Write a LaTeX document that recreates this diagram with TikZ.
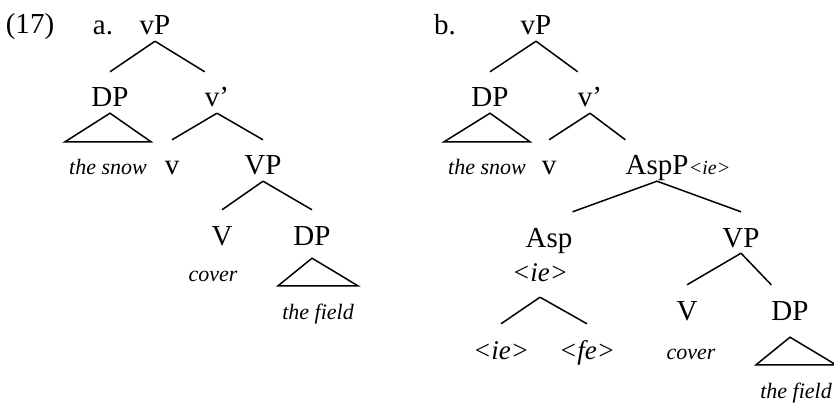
\documentclass[tikz,border=0pt]{standalone}
\usepackage{fontspec}
\setmainfont{Liberation Serif}
\usetikzlibrary{positioning}

\begin{document}
\begin{tikzpicture}[x=1pt, y=-1pt,
    cat/.style={anchor=base, inner sep=0pt, text height=35pt, text depth=6pt,
      font=\fontsize{29}{31}\selectfont},
    word/.style={cat, font=\fontsize{22}{24}\selectfont\itshape},
    feat/.style={cat, font=\fontsize{27}{29}\selectfont\itshape},
    tri/.style={word, text height=33pt, inner xsep=4pt},
    branch/.style={line width=1.5pt}]
    \useasboundingbox (0,0) rectangle (834,406);
    % (a): vP without AspP
    \node[cat] (exnum) at (30,34) {(17)};
    \node[cat] (laba) at (103,35) {a.};
    \node[cat] (vPa) at (155,35) {vP};
    \node[cat] (DPa) at (110,107) {DP};
    \node[cat] (vbara) at (217,107) {v'};
    \node[tri] (snowa) at (108,175) {the snow};
    \node[cat] (va) at (172,175) {v};
    \node[cat] (VPa) at (263,175) {VP};
    \node[cat] (Va) at (222,245) {V};
    \node[cat, text depth=13pt] (objDPa) at (312,245) {DP};
    \node[word] (covera) at (213,281) {cover};
    \node[tri] (fielda) at (318,319) {the field};
    \draw[branch] (vPa.south) -- (DPa.north);
    \draw[branch] (vPa.south) -- (vbara.north west);
    \draw[branch] (DPa.south) -- (snowa.north west) -- (snowa.north east) -- cycle;
    \draw[branch] (vbara.south) -- (va.north);
    \draw[branch] (vbara.south) -- (VPa.north);
    \draw[branch] (VPa.south) -- (Va.north);
    \draw[branch] (VPa.south) -- (objDPa.north);
    \draw[branch] (objDPa.south) -- (fielda.north west) -- (fielda.north east) -- cycle;
    % (b): AspP between v and VP
    \node[cat] (labb) at (445,35) {b.};
    \node[cat] (vPb) at (536,35) {vP};
    \node[cat] (DPb) at (490,107) {DP};
    \node[cat] (vbarb) at (590,107) {v'};
    \node[tri] (snowb) at (487,175) {the snow};
    \node[cat] (vb) at (549,175) {v};
    \node[cat] (asppb) at (657,175) {AspP};
    \node[anchor=base west, inner sep=0pt, font=\fontsize{20}{22}\selectfont\itshape]
      (asppsub) at (asppb.base east) {<ie>};
    \node[cat] (aspb) at (549,247) {Asp};
    \node[feat, text depth=16pt] (aspfb) at (540,281) {<ie>};
    \node[feat] (ieb) at (501,359) {<ie>};
    \node[feat] (feb) at (587,359) {<fe>};
    \node[cat] (VPb) at (741,247) {VP};
    \node[cat] (Vb) at (687,320) {V};
    \node[cat, text depth=17pt] (objDPb) at (790,320) {DP};
    \node[word] (coverb) at (691,359) {cover};
    \node[tri] (fieldb) at (796,398) {the field};
    \draw[branch] (vPb.south) -- (DPb.north);
    \draw[branch] (vPb.south) -- (vbarb.north west);
    \draw[branch] (DPb.south) -- (snowb.north west) -- (snowb.north east) -- cycle;
    \draw[branch] (vbarb.south) -- (vb.north);
    \draw[branch] (vbarb.south) -- (asppb.north west);
    \draw[branch] (asppb.south) -- (aspb.north east);
    \draw[branch] (asppb.south) -- (VPb.north);
    \draw[branch] (aspfb.south) -- (ieb.north);
    \draw[branch] (aspfb.south) -- (feb.north);
    \draw[branch] (VPb.south) -- (Vb.north);
    \draw[branch] (VPb.south) -- (objDPb.north west);
    \draw[branch] (objDPb.south) -- (fieldb.north west) -- (fieldb.north east) -- cycle;
\end{tikzpicture}
\end{document}
